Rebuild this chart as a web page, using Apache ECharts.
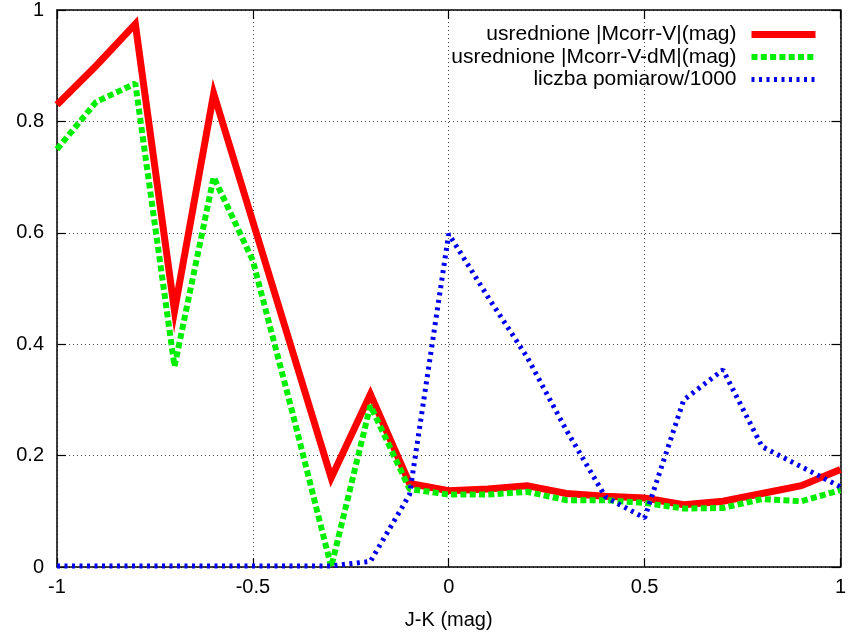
<!DOCTYPE html>
<html>
<head>
<meta charset="utf-8">
<script src="https://cdn.jsdelivr.net/npm/echarts@6/dist/echarts.min.js"></script>
<style>
  html, body { margin: 0; padding: 0; background: #fff; }
  #main { width: 849px; height: 639px; }
</style>
</head>
<body>
<div id="main"></div>
<script>
// J-K (mag) sampling points
var jk = [-1, -0.9, -0.8, -0.7, -0.6, -0.5, -0.4, -0.3, -0.2, -0.1, 0,
          0.1, 0.2, 0.3, 0.4, 0.5, 0.6, 0.7, 0.8, 0.9, 1];

var mcorrV = [0.83, 0.90, 0.975, 0.46, 0.85, 0.62, 0.39, 0.16, 0.31, 0.15, 0.137,
              0.14, 0.146, 0.132, 0.127, 0.124, 0.112, 0.118, 0.132, 0.146, 0.175];

var mcorrVdM = [0.75, 0.835, 0.868, 0.36, 0.70, 0.55, 0.28, 0.0, 0.29, 0.14, 0.13,
                0.13, 0.135, 0.12, 0.12, 0.115, 0.105, 0.106, 0.122, 0.118, 0.138];

var pomiary = [0.002, 0.002, 0.002, 0.002, 0.002, 0.002, 0.002, 0.002, 0.01, 0.13, 0.598,
               0.485, 0.377, 0.246, 0.126, 0.088, 0.30, 0.354, 0.216, 0.18, 0.144];

var seriesNames = ['usrednione |Mcorr-V|(mag)', 'usrednione |Mcorr-V-dM|(mag)', 'liczba pomiarow/1000'];

function pairs(ys) {
    return jk.map(function (x, i) { return [x, ys[i]]; });
}

var font = 'Liberation Sans, Arial, sans-serif';
var chart = echarts.init(document.getElementById('main'));

var gridLine = { show: true, lineStyle: { color: '#444', type: [1, 3], width: 1 } };
var frame = { show: true, onZero: false, lineStyle: { color: '#000', width: 1.5 } };
var ticks = { show: true, inside: true, length: 9, lineStyle: { color: '#000', width: 1.2 } };

var option = {
    animation: false,
    backgroundColor: '#fff',
    grid: { left: 57, right: 8, top: 10, bottom: 72 },
    legend: {
        orient: 'vertical',
        align: 'right',
        right: 25,
        top: 19,
        itemWidth: 64,
        itemHeight: 14,
        itemGap: 1.5,
        itemStyle: { opacity: 0 },
        lineStyle: { width: 'inherit' },
        textStyle: { fontFamily: font, fontSize: 21, lineHeight: 21, color: '#000', padding: [0, 10, 0, 0] },
        data: seriesNames
    },
    xAxis: [{
        type: 'value',
        min: -1, max: 1, interval: 0.5,
        name: 'J-K (mag)',
        nameLocation: 'middle',
        nameGap: 43,
        nameTextStyle: { fontFamily: font, fontSize: 20, color: '#000' },
        axisLine: frame,
        axisTick: ticks,
        axisLabel: { fontFamily: font, fontSize: 20, color: '#000', margin: 10 },
        splitLine: gridLine
    }, {
        type: 'value', position: 'top',
        min: -1, max: 1, interval: 0.5,
        axisLine: frame,
        axisTick: ticks,
        axisLabel: { show: false },
        splitLine: { show: false }
    }],
    yAxis: [{
        type: 'value',
        min: 0, max: 1, interval: 0.2,
        axisLine: frame,
        axisTick: ticks,
        axisLabel: { fontFamily: font, fontSize: 20, color: '#000', margin: 13 },
        splitLine: gridLine
    }, {
        type: 'value', position: 'right',
        min: 0, max: 1, interval: 0.2,
        axisLine: frame,
        axisTick: ticks,
        axisLabel: { show: false },
        splitLine: { show: false }
    }],
    series: [{
        name: seriesNames[0],
        type: 'line',
        symbol: 'none',
        color: '#ff0000',
        lineStyle: { color: '#ff0000', width: 7, join: 'miter' },
        data: pairs(mcorrV),
        z: 3
    }, {
        name: seriesNames[1],
        type: 'line',
        symbol: 'none',
        color: '#00ee00',
        lineStyle: { color: '#00ee00', width: 6, type: [6, 3.3] },
        data: pairs(mcorrVdM),
        z: 4
    }, {
        name: seriesNames[2],
        type: 'line',
        symbol: 'none',
        color: '#0000ee',
        lineStyle: { color: '#0000ee', width: 5, type: [3, 4.5] },
        data: pairs(pomiary),
        z: 5
    }]
};

chart.setOption(option);
</script>
</body>
</html>
